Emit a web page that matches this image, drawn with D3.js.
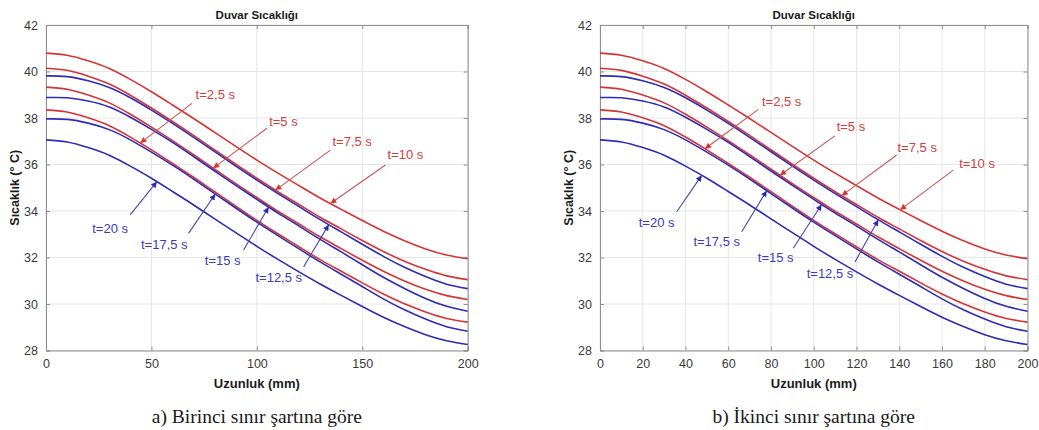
<!DOCTYPE html>
<html>
<head>
<meta charset="utf-8">
<script src="https://cdn.jsdelivr.net/npm/d3@7"></script>
<style>
  html, body { margin: 0; padding: 0; background: #ffffff; }
  svg { display: block; }
</style>
</head>
<body>
<svg id="chart" width="1039" height="430"></svg>
<script>
// Wall length positions (mm)
const positionsMm = [0, 10, 20, 30, 40, 50, 60, 70, 80, 90, 100, 110, 120, 130, 140, 150, 160, 170, 180, 190, 200];

// Wall temperature profiles (°C) for each time step
const tempT2_5  = [38.35, 38.26, 38.01, 37.67, 37.18, 36.63, 36.05, 35.45, 34.83, 34.21, 33.60, 33.02, 32.46, 31.91, 31.41, 30.91, 30.43, 30.01, 29.66, 29.38, 29.22];
const tempT5    = [39.33, 39.24, 38.99, 38.65, 38.16, 37.61, 37.03, 36.42, 35.80, 35.18, 34.58, 33.99, 33.44, 32.89, 32.38, 31.88, 31.41, 30.99, 30.63, 30.36, 30.19];
const tempT7_5  = [40.14, 40.05, 39.80, 39.46, 38.98, 38.43, 37.85, 37.25, 36.63, 36.01, 35.41, 34.83, 34.28, 33.73, 33.23, 32.73, 32.26, 31.84, 31.49, 31.21, 31.05];
const tempT10   = [40.79, 40.70, 40.46, 40.13, 39.66, 39.13, 38.56, 37.98, 37.38, 36.78, 36.19, 35.63, 35.09, 34.56, 34.07, 33.59, 33.13, 32.72, 32.37, 32.11, 31.95];
const tempT12_5 = [39.81, 39.78, 39.60, 39.31, 38.87, 38.34, 37.77, 37.17, 36.55, 35.93, 35.33, 34.75, 34.19, 33.63, 33.10, 32.57, 32.05, 31.58, 31.18, 30.85, 30.66];
const tempT15   = [38.88, 38.87, 38.73, 38.47, 38.03, 37.51, 36.95, 36.34, 35.72, 35.10, 34.50, 33.91, 33.35, 32.78, 32.24, 31.69, 31.15, 30.67, 30.24, 29.90, 29.69];
const tempT17_5 = [37.96, 37.94, 37.78, 37.50, 37.06, 36.53, 35.97, 35.37, 34.75, 34.13, 33.52, 32.94, 32.37, 31.81, 31.28, 30.75, 30.22, 29.75, 29.35, 29.02, 28.83];
const tempT20   = [37.06, 36.97, 36.73, 36.40, 35.93, 35.41, 34.84, 34.26, 33.66, 33.07, 32.48, 31.92, 31.38, 30.86, 30.37, 29.89, 29.43, 29.03, 28.68, 28.42, 28.26];

const seriesLabels = ["t=2,5 s", "t=5 s", "t=7,5 s", "t=10 s", "t=12,5 s", "t=15 s", "t=17,5 s", "t=20 s"];
const seriesValues = [tempT2_5, tempT5, tempT7_5, tempT10, tempT12_5, tempT15, tempT17_5, tempT20];
const seriesGroup  = ["heat", "heat", "heat", "heat", "cool", "cool", "cool", "cool"];

// Axis ticks
const yTicks = [28, 30, 32, 34, 36, 38, 40, 42];
const xTicksA = [0, 50, 100, 150, 200];
const xTicksB = [0, 20, 40, 60, 80, 100, 120, 140, 160, 180, 200];

// Texts
const titleText = "Duvar Sıcaklığı";
const xLabelText = "Uzunluk (mm)";
const yLabelText = "Sıcaklık (° C)";
const captionA = "a) Birinci sınır şartına göre";
const captionB = "b) İkinci sınır şartına göre";

// Callout placement in data units: arrow tip x, label centre (x, y), arrow tail (x, y)
const calloutsA = [
  { tipX: 44.7,  tx: 80.3,  ty: 38.99, ax: 69.2,  ay: 38.63 },
  { tipX: 79.3,  tx: 112.6, ty: 37.84, ax: 104.8, ay: 37.56 },
  { tipX: 108.8, tx: 145.2, ty: 36.98, ax: 134.9, ay: 36.62 },
  { tipX: 134.9, tx: 170.5, ty: 36.41, ax: 161.0, ay: 35.98 },
  { tipX: 134.1, tx: 110.4, ty: 31.15, ax: 122.2, ay: 31.60 },
  { tipX: 105.6, tx: 83.8,  ty: 31.89, ax: 93.7,  ay: 32.32 },
  { tipX: 80.3,  tx: 56.1,  ty: 32.57, ax: 67.6,  ay: 33.04 },
  { tipX: 52.6,  tx: 30.4,  ty: 33.26, ax: 39.9,  ay: 33.83 }
];
const calloutsB = [
  { tipX: 49.1,  tx: 85.0,  ty: 38.70, ax: 74.1,  ay: 38.37 },
  { tipX: 84.2,  tx: 117.4, ty: 37.63, ax: 109.9, ay: 37.23 },
  { tipX: 113.1, tx: 148.4, ty: 36.74, ax: 138.8, ay: 36.41 },
  { tipX: 140.4, tx: 176.4, ty: 36.05, ax: 165.3, ay: 35.76 },
  { tipX: 130.2, tx: 107.6, ty: 31.32, ax: 119.3, ay: 31.81 },
  { tipX: 103.7, tx: 82.2,  ty: 32.01, ax: 90.4,  ay: 32.40 },
  { tipX: 78.0,  tx: 54.6,  ty: 32.68, ax: 66.3,  ay: 33.11 },
  { tipX: 47.6,  tx: 26.5,  ty: 33.50, ax: 35.9,  ay: 33.97 }
];

const colors = {
  heat: { line: "#d63434", text: "#d43c3c", arrow: "#c95454" },
  cool: { line: "#2c2cb6", text: "#3b3bc0", arrow: "#4646a6" }
};

const svg = d3.select("#chart");
const defs = svg.append("defs");
["heat", "cool"].forEach(g => {
  defs.append("marker")
    .attr("id", "head-" + g)
    .attr("viewBox", "0 0 10 10")
    .attr("refX", 10).attr("refY", 5)
    .attr("markerWidth", 7).attr("markerHeight", 6)
    .attr("markerUnits", "userSpaceOnUse")
    .attr("orient", "auto")
    .append("path")
    .attr("d", "M0,0 L10,5 L0,10 Z")
    .attr("fill", colors[g].line);
});

function valueAt(values, x) {
  const i = Math.min(positionsMm.length - 2, Math.max(0, d3.bisectRight(positionsMm, x) - 1));
  const x0 = positionsMm[i], x1 = positionsMm[i + 1];
  const t = (x - x0) / (x1 - x0);
  return values[i] + (values[i + 1] - values[i]) * t;
}

function drawPanel(cfg) {
  const x = d3.scaleLinear().domain([0, 200]).range([cfg.left, cfg.right]);
  const y = d3.scaleLinear().domain([28, 42]).range([cfg.bottom, cfg.top]);
  const g = svg.append("g");

  // grid
  g.append("g").selectAll("line").data(cfg.xTicks).join("line")
    .attr("x1", d => x(d)).attr("x2", d => x(d))
    .attr("y1", cfg.top).attr("y2", cfg.bottom)
    .attr("stroke", "#e6e6e6").attr("stroke-width", 1);
  g.append("g").selectAll("line").data(yTicks).join("line")
    .attr("x1", cfg.left).attr("x2", cfg.right)
    .attr("y1", d => y(d)).attr("y2", d => y(d))
    .attr("stroke", "#e6e6e6").attr("stroke-width", 1);

  // axes (ticks inside, MATLAB style)
  const axColor = "#8f8f8f";
  const bottomAxis = g.append("g").attr("transform", `translate(0,${cfg.bottom})`)
    .call(d3.axisBottom(x).tickValues(cfg.xTicks).tickSize(-4).tickPadding(9).tickFormat(d3.format("d")));
  const topAxis = g.append("g").attr("transform", `translate(0,${cfg.top})`)
    .call(d3.axisTop(x).tickValues(cfg.xTicks).tickSize(-4).tickFormat(""));
  const leftAxis = g.append("g").attr("transform", `translate(${cfg.left},0)`)
    .call(d3.axisLeft(y).tickValues(yTicks).tickSize(-4).tickPadding(8).tickFormat(d3.format("d")));
  const rightAxis = g.append("g").attr("transform", `translate(${cfg.right},0)`)
    .call(d3.axisRight(y).tickValues(yTicks).tickSize(-4).tickFormat(""));
  [bottomAxis, topAxis, leftAxis, rightAxis].forEach(a => {
    a.select(".domain").attr("stroke", axColor).attr("stroke-width", 1);
    a.selectAll(".tick line").attr("stroke", axColor);
    a.selectAll(".tick text").attr("fill", "#3a3a3a")
      .style("font-family", "'Liberation Sans', Arial, sans-serif").style("font-size", "12.5px");
  });

  // temperature curves
  const line = d3.line()
    .x((d, i) => x(positionsMm[i]))
    .y(d => y(d))
    .curve(d3.curveNatural);
  const order = [0, 1, 2, 3, 4, 5, 6, 7];
  g.append("g").selectAll("path").data(order).join("path")
    .attr("d", i => line(seriesValues[i]))
    .attr("fill", "none")
    .attr("stroke", i => colors[seriesGroup[i]].line)
    .attr("stroke-width", 1.6);

  // time-step callouts
  const cg = g.append("g");
  cfg.callouts.forEach((c, i) => {
    const grp = seriesGroup[i];
    cg.append("line")
      .attr("x1", x(c.ax)).attr("y1", y(c.ay))
      .attr("x2", x(c.tipX)).attr("y2", y(valueAt(seriesValues[i], c.tipX)))
      .attr("stroke", colors[grp].arrow).attr("stroke-width", 1.1)
      .attr("marker-end", `url(#head-${grp})`);
    cg.append("text")
      .attr("x", x(c.tx)).attr("y", y(c.ty))
      .attr("text-anchor", "middle").attr("dominant-baseline", "central")
      .attr("fill", colors[grp].text)
      .style("font-family", "'Liberation Sans', Arial, sans-serif").style("font-size", "13px")
      .text(seriesLabels[i]);
  });

  const cx = (cfg.left + cfg.right) / 2;
  // title
  g.append("text").attr("x", cx).attr("y", 19)
    .attr("text-anchor", "middle").attr("fill", "#1a1a1a")
    .style("font-family", "'Liberation Sans', Arial, sans-serif").style("font-size", "11.5px").style("font-weight", "bold")
    .text(titleText);
  // x label
  g.append("text").attr("x", cx).attr("y", 388)
    .attr("text-anchor", "middle").attr("fill", "#1a1a1a")
    .style("font-family", "'Liberation Sans', Arial, sans-serif").style("font-size", "13px").style("font-weight", "bold")
    .text(xLabelText);
  // y label
  g.append("text")
    .attr("transform", `translate(${cfg.left - 27},${(cfg.top + cfg.bottom) / 2}) rotate(-90)`)
    .attr("text-anchor", "middle").attr("fill", "#1a1a1a")
    .style("font-family", "'Liberation Sans', Arial, sans-serif").style("font-size", "12.5px").style("font-weight", "bold")
    .text(yLabelText);
  // caption
  g.append("text").attr("x", cx).attr("y", 423)
    .attr("text-anchor", "middle").attr("fill", "#1a1a1a")
    .style("font-family", "'Liberation Serif', 'Times New Roman', serif").style("font-size", "19.5px")
    .text(cfg.caption);
}

drawPanel({ left: 46, right: 467.7, top: 25, bottom: 350.5, xTicks: xTicksA, callouts: calloutsA, caption: captionA });
drawPanel({ left: 600, right: 1027.5, top: 25, bottom: 350.5, xTicks: xTicksB, callouts: calloutsB, caption: captionB });
</script>
</body>
</html>
